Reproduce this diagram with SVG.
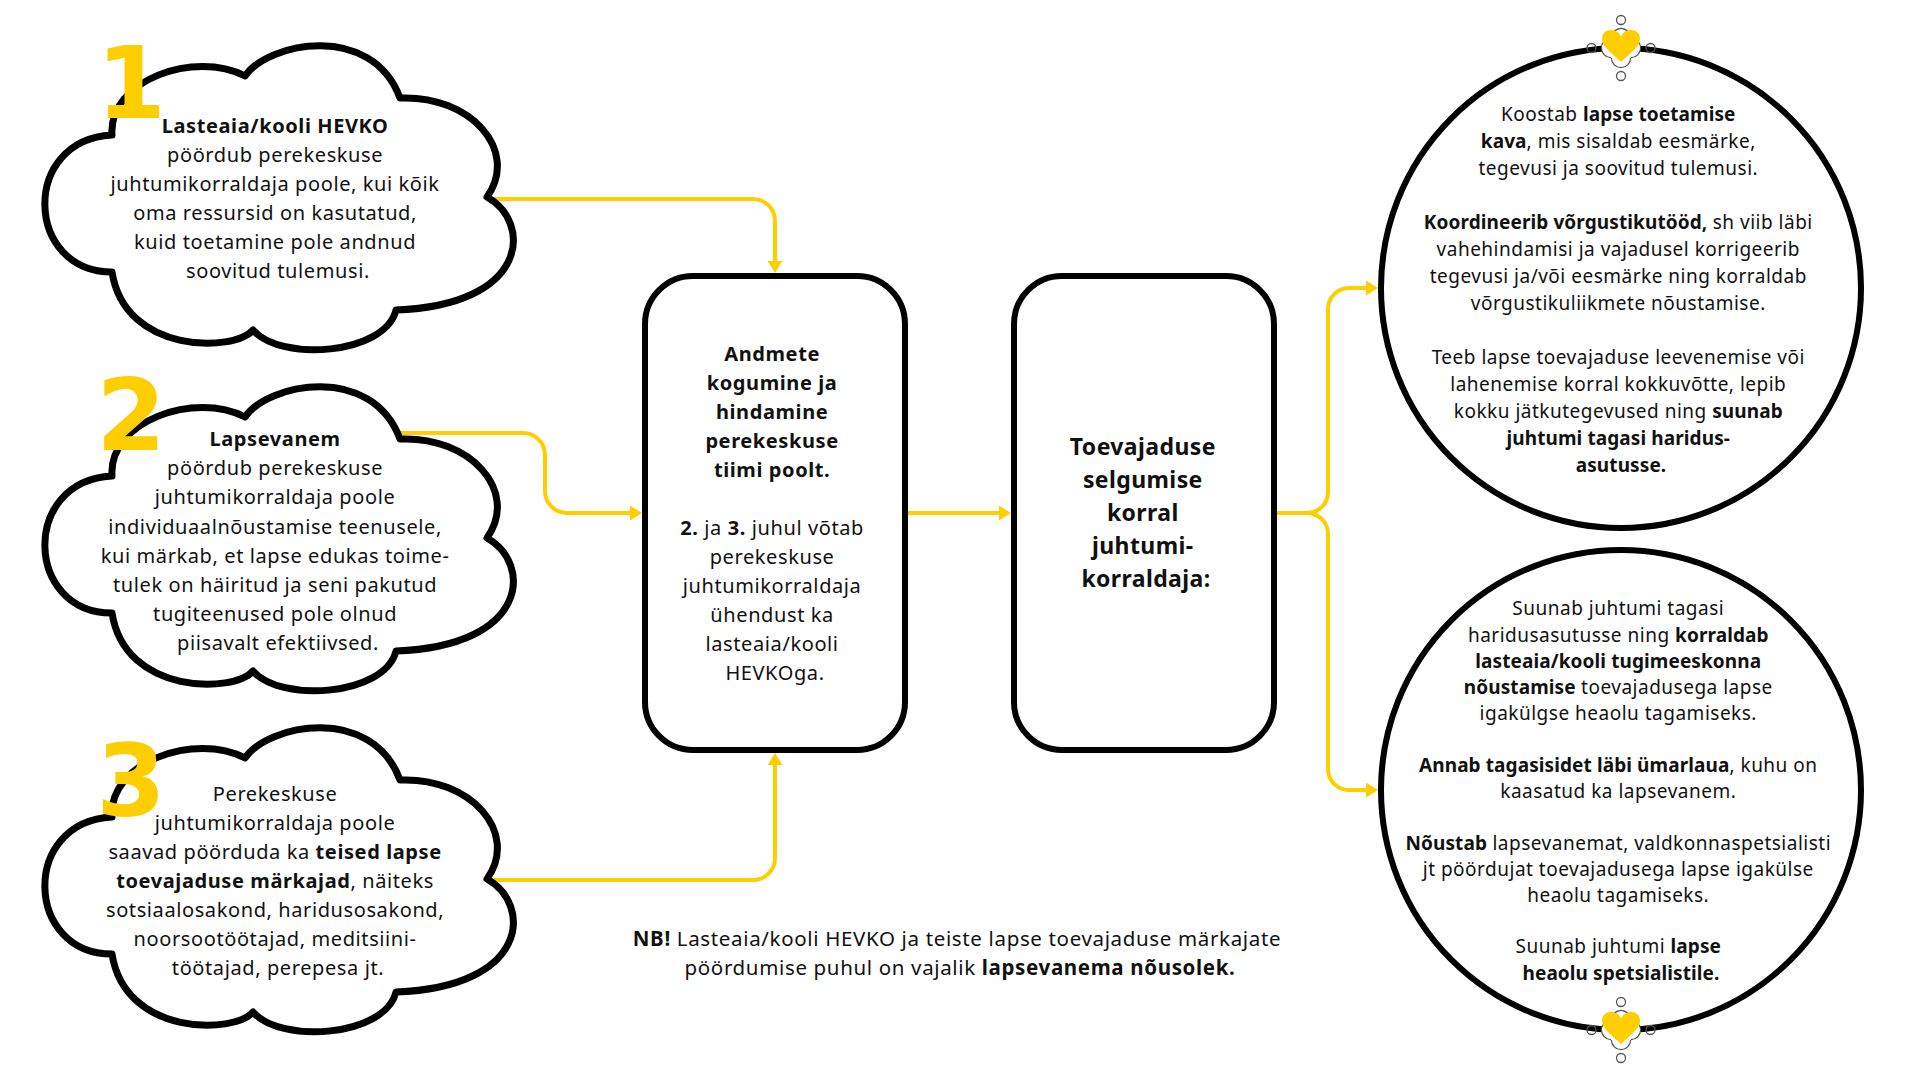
<svg xmlns="http://www.w3.org/2000/svg" width="1920" height="1080" viewBox="0 0 1920 1080">
<style>
.t{font-family:"Noto Sans","Open Sans","DejaVu Sans",sans-serif;fill:#111;text-anchor:middle}
.cl{font-size:20px;letter-spacing:0.6px}
.bx{font-size:20px;letter-spacing:0.6px}
.bx2{font-size:23px;letter-spacing:0.4px;font-weight:700}
.ci{font-size:19px;letter-spacing:0.5px}
.ci .b{letter-spacing:0.1px}
.nb{font-size:20.5px;letter-spacing:0.65px}
.b{font-weight:700}
.num{font-family:"DejaVu Sans",sans-serif;font-weight:700;font-size:100px;fill:#FFCE00;text-anchor:middle}
.cloud{fill:#fff;stroke:#000;stroke-width:7;stroke-linejoin:round}
.box{fill:#fff;stroke:#000;stroke-width:6}
.circ{fill:#fff;stroke:#000;stroke-width:6}
.con{fill:none;stroke:#FFCE00;stroke-width:4;marker-end:url(#ah)}
.hdl{fill:#fff;stroke:#555;stroke-width:1.3}
.hdl2{fill:none;stroke:#555;stroke-width:1.3}
</style>
<defs>
<marker id="ah" viewBox="0 0 12 15" refX="6" refY="7.5" markerWidth="12" markerHeight="15" markerUnits="userSpaceOnUse" orient="auto"><path d="M0,0 L12,7.5 L0,15 Z" fill="#FFCE00"/></marker>
<path id="cloudShape" class="cloud" d="M112,135 C108,80 195,50 245,76 C268,42 372,22 400,98 C470,95 520,150 487,197 C532,222 530,305 396,310 C385,355 280,362 253,330 C235,352 125,355 112,272 C25,272 20,140 112,135 Z"/>
<g id="iconShape">
<circle class="hdl" cx="0" cy="-28" r="4.5"/>
<circle class="hdl" cx="0" cy="28" r="4.5"/>
<circle class="hdl2" cx="-29.5" cy="0" r="4.5"/>
<circle class="hdl2" cx="29.5" cy="0" r="4.5"/>
<circle class="hdl" cx="0" cy="-10" r="9.5"/>
<circle class="hdl" cx="0" cy="10" r="9.5"/>
<circle class="hdl" cx="-10" cy="0" r="9.5"/>
<circle class="hdl" cx="10" cy="0" r="9.5"/>
<circle fill="#fff" cx="0" cy="-10" r="8.7"/>
<circle fill="#fff" cx="0" cy="10" r="8.7"/>
<circle fill="#fff" cx="-10" cy="0" r="8.7"/>
<circle fill="#fff" cx="10" cy="0" r="8.7"/>
<rect fill="#fff" x="-10" y="-10" width="20" height="20"/>
<path fill="#FFCE00" transform="translate(0,-2)" d="M0,16 C-8,8 -19,1 -19,-7 C-19,-13 -15,-16 -10,-16 C-5,-16 -1,-13 0,-9 C1,-13 5,-16 10,-16 C15,-16 19,-13 19,-7 C19,1 8,8 0,16 Z"/>
</g>
</defs>
<rect width="1920" height="1080" fill="#fff"/>

<g id="connectors">
<path class="con" d="M470,199 H753 A22,22 0 0 1 775,221 V267"/>
<path class="con" d="M380,433 H523 A22,22 0 0 1 545,455 V491 A22,22 0 0 0 567,513 H636"/>
<path class="con" d="M470,880 H753 A22,22 0 0 0 775,858 V759"/>
<path class="con" d="M908,513 H1005"/>
<path class="con" d="M1277,513 H1307 A21,21 0 0 0 1328,492 V309 A21,21 0 0 1 1349,288 H1372"/>
<path class="con" d="M1277,513 H1307 A21,21 0 0 1 1328,534 V769 A21,21 0 0 0 1349,790 H1372"/>
</g>

<g id="cloud1">
<use href="#cloudShape"/>
<text class="t cl">
<tspan x="278" y="133" class="b">Lasteaia/kooli HEVKO</tspan>
<tspan x="278" y="162">pöördub perekeskuse</tspan>
<tspan x="278" y="191">juhtumikorraldaja poole, kui kõik</tspan>
<tspan x="278" y="220">oma ressursid on kasutatud,</tspan>
<tspan x="278" y="249">kuid toetamine pole andnud</tspan>
<tspan x="278" y="278">soovitud tulemusi.</tspan>
</text>
<text class="num" x="131" y="118">1</text>
</g>

<g id="cloud2">
<use href="#cloudShape" transform="translate(0,341)"/>
<text class="t cl">
<tspan x="278" y="446" class="b">Lapsevanem</tspan>
<tspan x="278" y="475">pöördub perekeskuse</tspan>
<tspan x="278" y="504">juhtumikorraldaja poole</tspan>
<tspan x="278" y="534">individuaalnõustamise teenusele,</tspan>
<tspan x="278" y="563">kui märkab, et lapse edukas toime-</tspan>
<tspan x="278" y="592">tulek on häiritud ja seni pakutud</tspan>
<tspan x="278" y="621">tugiteenused pole olnud</tspan>
<tspan x="278" y="650">piisavalt efektiivsed.</tspan>
</text>
<text class="num" x="131" y="450">2</text>
</g>

<g id="cloud3">
<use href="#cloudShape" transform="translate(0,682)"/>
<text class="t cl">
<tspan x="278" y="801">Perekeskuse</tspan>
<tspan x="278" y="830">juhtumikorraldaja poole</tspan>
<tspan x="278" y="859">saavad pöörduda ka <tspan class="b">teised lapse</tspan></tspan>
<tspan x="278" y="888"><tspan class="b">toevajaduse märkajad</tspan>, näiteks</tspan>
<tspan x="278" y="917">sotsiaalosakond, haridusosakond,</tspan>
<tspan x="278" y="946">noorsootöötajad, meditsiini-</tspan>
<tspan x="278" y="975">töötajad, perepesa jt.</tspan>
</text>
<text class="num" x="131" y="816">3</text>
</g>

<g id="box1">
<rect class="box" x="645" y="276" width="260" height="474" rx="48" ry="48"/>
<text class="t bx">
<tspan x="775" y="361" class="b">Andmete</tspan>
<tspan x="775" y="390" class="b">kogumine ja</tspan>
<tspan x="775" y="419" class="b">hindamine</tspan>
<tspan x="775" y="448" class="b">perekeskuse</tspan>
<tspan x="775" y="477" class="b">tiimi poolt.</tspan>
<tspan x="775" y="535"><tspan class="b">2.</tspan> ja <tspan class="b">3.</tspan> juhul võtab</tspan>
<tspan x="775" y="564">perekeskuse</tspan>
<tspan x="775" y="593">juhtumikorraldaja</tspan>
<tspan x="775" y="622">ühendust ka</tspan>
<tspan x="775" y="651">lasteaia/kooli</tspan>
<tspan x="775" y="680">HEVKOga.</tspan>
</text>
</g>

<g id="box2">
<rect class="box" x="1014" y="276" width="260" height="474" rx="48" ry="48"/>
<text class="t bx2">
<tspan x="1146" y="455">Toevajaduse</tspan>
<tspan x="1146" y="488">selgumise</tspan>
<tspan x="1146" y="521">korral</tspan>
<tspan x="1146" y="554">juhtumi-</tspan>
<tspan x="1146" y="587">korraldaja:</tspan>
</text>
</g>

<g id="circle1">
<circle class="circ" cx="1621" cy="288" r="240"/>
<text class="t ci">
<tspan x="1621" y="121">Koostab <tspan class="b">lapse toetamise</tspan></tspan>
<tspan x="1621" y="148"><tspan class="b">kava</tspan>, mis sisaldab eesmärke,</tspan>
<tspan x="1621" y="175">tegevusi ja soovitud tulemusi.</tspan>
<tspan x="1621" y="229"><tspan class="b">Koordineerib võrgustikutööd,</tspan> sh viib läbi</tspan>
<tspan x="1621" y="256">vahehindamisi ja vajadusel korrigeerib</tspan>
<tspan x="1621" y="283">tegevusi ja/või eesmärke ning korraldab</tspan>
<tspan x="1621" y="310">võrgustikuliikmete nõustamise.</tspan>
<tspan x="1621" y="364">Teeb lapse toevajaduse leevenemise või</tspan>
<tspan x="1621" y="391">lahenemise korral kokkuvõtte, lepib</tspan>
<tspan x="1621" y="418">kokku jätkutegevused ning <tspan class="b">suunab</tspan></tspan>
<tspan x="1621" y="445" class="b">juhtumi tagasi haridus-</tspan>
<tspan x="1621" y="472" class="b">asutusse.</tspan>
</text>
<use href="#iconShape" transform="translate(1621,48)"/>
</g>

<g id="circle2">
<circle class="circ" cx="1621" cy="790" r="240"/>
<text class="t ci">
<tspan x="1621" y="615">Suunab juhtumi tagasi</tspan>
<tspan x="1621" y="642">haridusasutusse ning <tspan class="b">korraldab</tspan></tspan>
<tspan x="1621" y="668" class="b">lasteaia/kooli tugimeeskonna</tspan>
<tspan x="1621" y="694"><tspan class="b">nõustamise</tspan> toevajadusega lapse</tspan>
<tspan x="1621" y="720">igakülgse heaolu tagamiseks.</tspan>
<tspan x="1621" y="772"><tspan class="b">Annab tagasisidet läbi ümarlaua</tspan>, kuhu on</tspan>
<tspan x="1621" y="798">kaasatud ka lapsevanem.</tspan>
<tspan x="1621" y="850"><tspan class="b">Nõustab</tspan> lapsevanemat, valdkonnaspetsialisti</tspan>
<tspan x="1621" y="876">jt pöördujat toevajadusega lapse igakülse</tspan>
<tspan x="1621" y="902">heaolu tagamiseks.</tspan>
<tspan x="1621" y="953">Suunab juhtumi <tspan class="b">lapse</tspan></tspan>
<tspan x="1621" y="980" class="b">heaolu spetsialistile.</tspan>
</text>
<use href="#iconShape" transform="translate(1621,1030)"/>
</g>

<g id="note">
<text class="t nb">
<tspan x="960" y="946"><tspan class="b">NB!</tspan> Lasteaia/kooli HEVKO ja teiste lapse toevajaduse märkajate</tspan>
<tspan x="960" y="975">pöördumise puhul on vajalik <tspan class="b">lapsevanema nõusolek.</tspan></tspan>
</text>
</g>
</svg>
